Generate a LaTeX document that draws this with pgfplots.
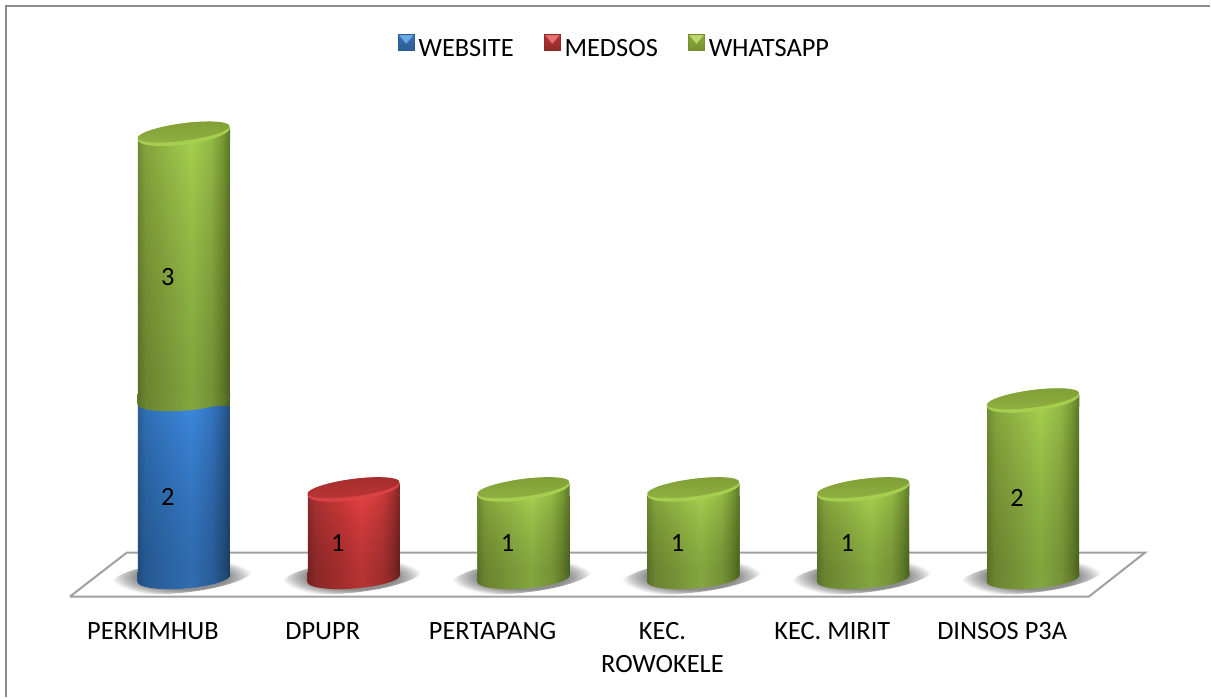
\documentclass[border=0pt]{standalone}
\usepackage{pgfplots}
\pgfplotsset{compat=1.18}
\usepackage{fontspec}
\setmainfont{Carlito}
\usetikzlibrary{fadings}
\tikzfading[name=barfade, top color=transparent!100, bottom color=transparent!70]

\newcommand{\defcyl}[8]{%
  \definecolor{#1a}{HTML}{#2}\definecolor{#1b}{HTML}{#3}\definecolor{#1c}{HTML}{#4}%
  \definecolor{#1d}{HTML}{#5}\definecolor{#1e}{HTML}{#6}\definecolor{#1f}{HTML}{#7}\definecolor{#1g}{HTML}{#8}%
  \pgfdeclarehorizontalshading{cyl#1}{100bp}{%
    color(0bp)=(#1a); color(25bp)=(#1a); color(29bp)=(#1b); color(41bp)=(#1c);
    color(54bp)=(#1d); color(65bp)=(#1e); color(71bp)=(#1f); color(75bp)=(#1g); color(100bp)=(#1g)}%
}
\defcyl{G}{6F8D33}{86A53C}{95B946}{A4D04F}{93B845}{779733}{5A7628}
\defcyl{B}{2A5F9C}{3070B6}{367CCA}{3C88DC}{3475C2}{2B6099}{224D7D}
\defcyl{R}{8E2A2A}{AC3333}{C83737}{E44141}{CB3A3A}{A53030}{7F2524}
\definecolor{capGa}{HTML}{7F9E36}\definecolor{capGb}{HTML}{90B143}\definecolor{capGr}{HTML}{A6CF50}
\definecolor{capRa}{HTML}{A32C2C}\definecolor{capRb}{HTML}{BC3535}\definecolor{capRr}{HTML}{D84242}
\definecolor{floorline}{HTML}{A0A0A0}
\definecolor{frameline}{HTML}{8C8C8C}
\definecolor{swBa}{HTML}{2B5C94}\definecolor{swBb}{HTML}{3B70B0}\definecolor{swBc}{HTML}{6AA8E8}
\definecolor{swRa}{HTML}{8E2A2A}\definecolor{swRb}{HTML}{B83636}\definecolor{swRc}{HTML}{E87070}
\definecolor{swGa}{HTML}{76902F}\definecolor{swGb}{HTML}{8FAA40}\definecolor{swGc}{HTML}{B9D96A}
\pgfdeclareradialshading{shadowshade}{\pgfpoint{0bp}{0bp}}{%
  color(0bp)=(black!47); color(16bp)=(black!44); color(21bp)=(black!22); color(25bp)=(white); color(50bp)=(white)}

% side of the bar at its foot: the lower half of a tilted ellipse, darkened
\newcommand{\footmark}[2]{%
  \begin{scope}[x={(0.7478pt,0.0575pt)},y={(-0.0575pt,0.7478pt)},yshift=#2]
    \shade[draw=none,shading=cyl#1] (46.5,0) arc[start angle=0,end angle=-180,x radius=46.5,y radius=10] -- (-45.8,10) -- (46.7,2.9) -- cycle;
    \fill[draw=none,black,opacity=0.2] (46.5,0) arc[start angle=0,end angle=-180,x radius=46.5,y radius=10] -- (-45.8,10) -- (46.7,2.9) -- cycle;
  \end{scope}}
% lid of the bar
\newcommand{\capmark}[2]{%
  \begin{scope}[x=0.75pt,y=0.75pt]
    \shade[draw=none,shading=cyl#1] (-46.2,-6) -- (46.2,-6) -- (46.2,6) -- cycle;
  \end{scope}
  \begin{scope}[x={(0.7436pt,0.0979pt)},y={(-0.0979pt,0.7436pt)}]
    \fill[draw=none,cap#2r] (0,0) ellipse[x radius=46.5,y radius=10.6];
    \shade[draw=none,top color=cap#2a,bottom color=cap#2b] (0,1.9) ellipse[x radius=46.4,y radius=8.7];
  \end{scope}}
\pgfdeclareplotmark{footG}{\footmark{G}{1.9pt}}
\pgfdeclareplotmark{footB}{\footmark{B}{1.9pt}}
\pgfdeclareplotmark{footR}{\footmark{R}{1.9pt}}
\pgfdeclareplotmark{joinG}{\footmark{G}{-1.1pt}}
\pgfdeclareplotmark{capG}{\capmark{G}{G}}
\pgfdeclareplotmark{capR}{\capmark{R}{R}}
\pgfdeclareplotmark{shadow}{%
  \begin{scope}[x={(0.7459pt,0.0784pt)},y={(-0.0784pt,0.7459pt)}]
    \shade[draw=none,shading=shadowshade] (0,0) ellipse[x radius=71,y radius=16];
  \end{scope}}

\newcommand{\swatch}[3]{%
  \begin{scope}[x=0.75pt,y=0.75pt,yshift=-1pt]
    \shade[bottom color=#1,top color=#2] (0,0) rectangle (16,16);
    \fill[#3] (1.5,15) -- (14.5,15) -- (8,7) -- cycle;
    \draw[#1,line width=0.4pt] (0,0) rectangle (16,16);
  \end{scope}}

\pgfplotsset{
  base/.style={
    scale only axis, width=908.25pt, height=523.5pt,
    xmin=-1.08235, xmax=6.04118, ymin=-1.3371, ymax=6.5056,
    clip=false, axis line style={draw=none}, tick style={draw=none},
    xtick=\empty, ytick=\empty},
  % same scale as base, but its box ends where the tilted foot begins, so the bars are cut there
  barbox/.style={base, at={(0pt,93.75pt)}, anchor=south west, height=429.75pt, ymin=0.0674, clip=true},
  cylbar/.style={yshift=-4.5pt,draw=none,shading=#1,
    postaction={path fading=barfade,fit fading=true,fill=black}},
}
\begin{document}
\begin{tikzpicture}
% floor, frame and shadows
\begin{axis}[base, at={(0pt,0pt)}, anchor=south west]
  \addplot[frameline,line width=1.5pt] coordinates {(-1.0471,-1.3371) (-1.0471,6.4382) (6.04118,6.4382)};
  \addplot[floorline,line width=1.5pt] coordinates {(-0.6706,-0.2022) (5.329,-0.2022) (5.659,0.2921) (-0.3353,0.2921) (-0.6706,-0.2022)};
  \addplot[only marks,mark=shadow] coordinates {(-0.01,0.02) (0.99,0.02) (1.99,0.02) (2.99,0.02) (3.99,0.02) (4.99,0.02)};
\end{axis}
% PERKIMHUB: stacked
\begin{axis}[barbox, ybar stacked, bar width=0.541]
  \addplot[cylbar=cylB] coordinates {(0,2)};
  \addplot[cylbar=cylG] coordinates {(0,3)};
\end{axis}
% the other bars, one series each
\begin{axis}[barbox, ybar, bar shift=0pt, bar width=0.541]
  \addplot[cylbar=cylR] coordinates {(1,1)};
  \addplot[cylbar=cylG] coordinates {(2,1)};
  \addplot[cylbar=cylG] coordinates {(3,1)};
  \addplot[cylbar=cylG] coordinates {(4,1)};
  \addplot[cylbar=cylG] coordinates {(5,2)};
\end{axis}
% bar ends, values, category names and legend
\begin{axis}[base, at={(0pt,0pt)}, anchor=south west,
    /pgf/number format/assume math mode=true,
    xtick={0,1,2,3,4,5},
    xticklabels={PERKIMHUB,DPUPR,PERTAPANG,KEC.\\ROWOKELE,KEC. MIRIT,DINSOS P3A},
    x tick label style={align=center,anchor=north,xshift=-23.25pt,yshift=59.5pt,font=\fontsize{19.8}{24.75}\selectfont,text depth=0pt},
    nodes near coords style={anchor=center,xshift=-12pt,font=\fontsize{19.8}{22}\selectfont,text=black},
    legend columns=3,
    legend style={draw=none,fill=none,at={(0.5087,0.9327)},anchor=center,
      font=\fontsize{19.8}{22}\selectfont,
      /tikz/every even column/.append style={column sep=19.75pt},
      nodes={inner xsep=3pt,inner ysep=1pt}},
    legend cell align=left]
  \addlegendimage{legend image code/.code={\swatch{swBa}{swBb}{swBc}}}
  \addlegendentry{WEBSITE}
  \addlegendimage{legend image code/.code={\swatch{swRa}{swRb}{swRc}}}
  \addlegendentry{MEDSOS}
  \addlegendimage{legend image code/.code={\swatch{swGa}{swGb}{swGc}}}
  \addlegendentry{WHATSAPP}
  \addplot[only marks,mark=footB,forget plot] coordinates {(0,0)};
  \addplot[only marks,mark=footR,forget plot] coordinates {(1,0)};
  \addplot[only marks,mark=footG,forget plot] coordinates {(2,0) (3,0) (4,0) (5,0)};
  \addplot[only marks,mark=joinG,forget plot] coordinates {(0,2)};
  \addplot[only marks,mark=capG,forget plot] coordinates {(0,5) (2,1) (3,1) (4,1) (5,2)};
  \addplot[only marks,mark=capR,forget plot] coordinates {(1,1)};
  \addplot[only marks,mark=none,forget plot,point meta=explicit,nodes near coords]
    coordinates {(0,0.921)[2] (0,3.393)[3] (1,0.404)[1] (2,0.404)[1] (3,0.404)[1] (4,0.404)[1] (5,0.91)[2]};
\end{axis}
\end{tikzpicture}
\end{document}
